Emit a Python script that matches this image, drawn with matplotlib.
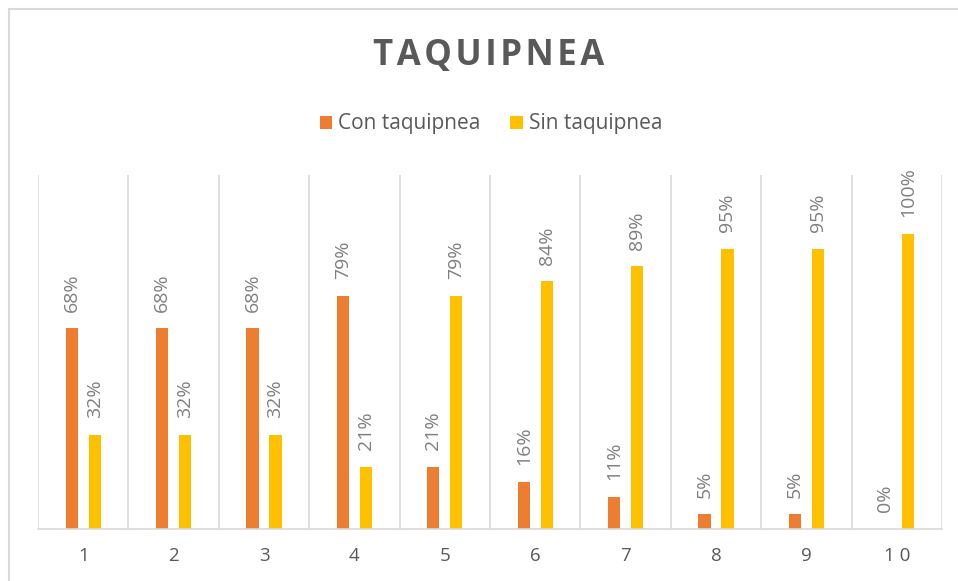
import numpy as np
import matplotlib.pyplot as plt
from matplotlib.patches import Rectangle

categorias = ['1', '2', '3', '4', '5', '6', '7', '8', '9', '1 0']
con_taquipnea = [0.68, 0.68, 0.68, 0.79, 0.21, 0.16, 0.11, 0.05, 0.05, 0.0]
sin_taquipnea = [0.32, 0.32, 0.32, 0.21, 0.79, 0.84, 0.89, 0.95, 0.95, 1.0]

plt.rcParams['font.family'] = ['Open Sans', 'DejaVu Sans']

W, H = 958, 581
fig = plt.figure(figsize=(W / 100, H / 100), dpi=100)
fig.patch.set_facecolor('white')

# borde del grafico
fig.patches.append(Rectangle((8.5 / W, -0.1), 1.2, 1 - 8.5 / H + 0.1,
                             transform=fig.transFigure, fill=False,
                             edgecolor='#d9d9d9', linewidth=1.5))

ax = fig.add_axes([38 / W, (H - 529) / H, (942 - 38) / W, (529 - 175) / H])
x = np.arange(len(categorias))
ancho = 0.135
desp = 0.127
b1 = ax.bar(x - desp, con_taquipnea, ancho, color='#ed7d31', label='Con taquipnea')
b2 = ax.bar(x + desp, sin_taquipnea, ancho, color='#ffc000', label='Sin taquipnea')

for barras, vals in ((b1, con_taquipnea), (b2, sin_taquipnea)):
    for b, v in zip(barras, vals):
        ax.annotate(f'{v:.0%}', (b.get_x() + b.get_width() / 2, v),
                    xytext=(0, 12), textcoords='offset points',
                    rotation=90, ha='center', va='bottom',
                    fontsize=14, color='#7f7f7f')

ax.set_xlim(-0.5, len(categorias) - 0.5)
ax.set_ylim(0, 1.2)
ax.set_yticks([])
ax.set_xticks(x)
ax.set_xticklabels(categorias, fontsize=13.5, color='#595959')
ax.tick_params(axis='x', length=0, pad=13)
for xb in np.arange(-0.5, len(categorias) + 0.5, 1):
    ax.axvline(xb, color='#d9d9d9', linewidth=1.2, zorder=0)
for s in ('top', 'left', 'right'):
    ax.spines[s].set_visible(False)
ax.spines['bottom'].set_color('#d9d9d9')
ax.spines['bottom'].set_linewidth(1.2)

titulo = '\u200a'.join('TAQUIPNEA')
fig.text(489 / W, (H - 56) / H, titulo, ha='center', va='center',
         fontsize=25, fontweight='bold', color='#595959')
fig.legend(handles=[b1, b2], loc='center', bbox_to_anchor=(491 / W, (H - 124) / H),
           ncol=2, frameon=False, fontsize=15, labelcolor='#595959',
           handlelength=0.6, handleheight=0.6, handletextpad=0.3,
           columnspacing=1.4)

fig.savefig('out.png', dpi=100, facecolor='white')
